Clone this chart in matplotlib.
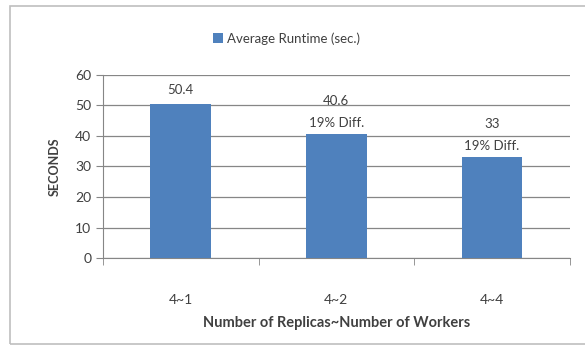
import matplotlib.pyplot as plt
from matplotlib.patches import Rectangle

categories = ['4~1', '4~2', '4~4']
runtime = [50.4, 40.6, 33]
bar_labels = ['50.4', '40.6\n19% Diff.', '33\n19% Diff.']

plt.rcParams['font.family'] = ['Lato', 'DejaVu Sans']
text_color = '#404040'
bar_color = '#4F81BD'

fig = plt.figure(figsize=(5.85, 3.52), dpi=100)
fig.patches.append(Rectangle((0.017, 0.022), 0.99, 0.96, transform=fig.transFigure,
                             fill=False, edgecolor='#BFBFBF', linewidth=1.2))

ax = fig.add_axes([0.176, 0.267, 0.798, 0.52])
x = range(len(categories))
bars = ax.bar(x, runtime, width=0.39, color=bar_color, label='Average Runtime (sec.)', zorder=3)

for rect, lab in zip(bars, bar_labels):
    off = 4 if '\n' in lab else 6
    ax.annotate(lab, (rect.get_x() + rect.get_width() / 2, rect.get_height()),
                xytext=(0, off), textcoords='offset points', ha='center', va='bottom',
                fontsize=9.5, color=text_color, linespacing=2.0)

ax.set_xlim(-0.5, 2.5)
ax.set_ylim(0, 60)
ax.set_yticks(range(0, 61, 10))
ax.set_xticks(list(x))
ax.set_xticklabels(categories)
ax.set_xticks([-0.5, 0.5, 1.5, 2.5], minor=True)
ax.tick_params(axis='x', which='major', length=0, pad=26, labelsize=10, colors=text_color)
ax.tick_params(axis='x', which='minor', length=5, color='#868686')
ax.tick_params(axis='y', length=5, color='#868686', labelsize=10, colors=text_color)

ax.grid(axis='y', color='#868686', linewidth=0.9, zorder=0)
for side in ['top', 'right']:
    ax.spines[side].set_visible(False)
ax.spines['left'].set_color('#868686')
ax.spines['bottom'].set_color('#868686')

ax.set_ylabel('SECONDS', fontsize=9, fontweight='bold', color=text_color, labelpad=10)
ax.set_xlabel('Number of Replicas~Number of Workers', fontsize=10.5, fontweight='bold',
              color=text_color, labelpad=7)

fig.legend(loc='center', bbox_to_anchor=(0.49, 0.89), frameon=False, fontsize=9.5,
           handlelength=0.8, handleheight=0.8, handletextpad=0.3, labelcolor=text_color)

fig.savefig('out.png', dpi=100)
